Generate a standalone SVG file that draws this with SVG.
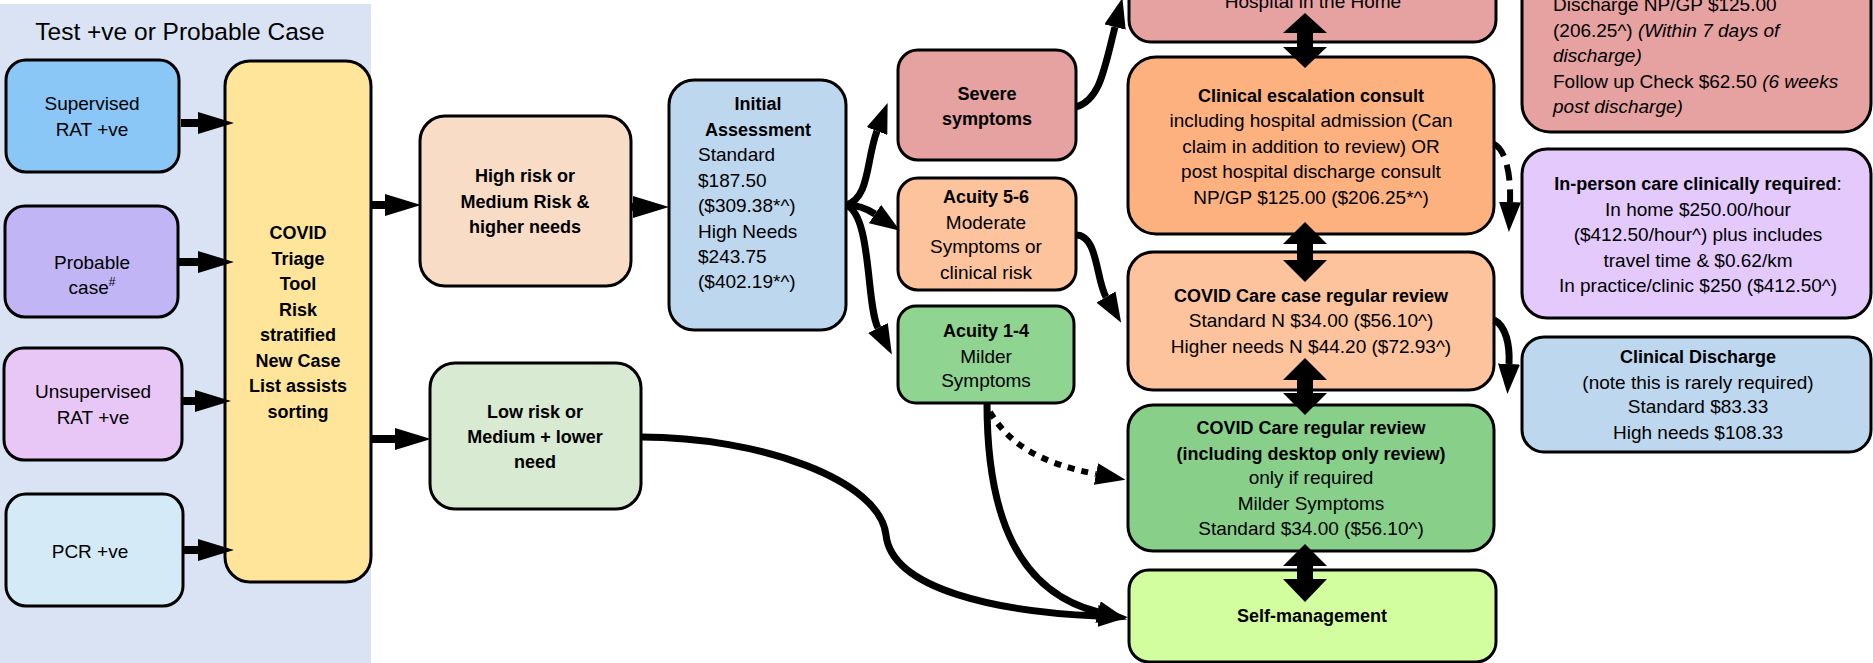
<svg xmlns="http://www.w3.org/2000/svg" width="1873" height="663" viewBox="0 0 1873 663">
<defs>
<style>
.n{stroke:#000;stroke-width:3}
text{font-family:"Liberation Sans",Arial,sans-serif;font-size:19px;fill:#000}
.c{text-anchor:middle}
.b{font-weight:bold;font-size:18px}
.i{font-style:italic}
.ln{fill:none;stroke:#000;stroke-width:8}
.cv{fill:none;stroke:#000;stroke-width:7}
.dot{fill:none;stroke:#000;stroke-width:6;stroke-dasharray:7 7}
.dash{fill:none;stroke:#000;stroke-width:6;stroke-dasharray:16 9}
</style>
<marker id="ah" markerUnits="userSpaceOnUse" markerWidth="36" markerHeight="22" viewBox="0 0 36 22" refX="0" refY="11" orient="auto"><path d="M0,0 L36,11 L0,22 z" fill="#000"/></marker>
<marker id="ahc" markerUnits="userSpaceOnUse" markerWidth="30" markerHeight="22" viewBox="0 0 30 22" refX="0" refY="11" orient="auto"><path d="M0,0 L30,11 L0,22 z" fill="#000"/></marker>
</defs>
<rect x="0" y="4" width="371" height="659" fill="#dae3f3"/>
<text class="c" x="180" y="40" style="font-size:24.5px">Test +ve or Probable Case</text>

<g id="supervised"><rect class="n" x="6" y="60" width="173" height="112" rx="20" fill="#8ac6f6"/><text class="c" x="92" y="110">Supervised</text><text class="c" x="92" y="136">RAT +ve</text></g>
<g id="probable"><rect class="n" x="5" y="206" width="173" height="111" rx="20" fill="#c1b5f5"/><text class="c" x="92" y="269">Probable</text><text class="c" x="92" y="294">case<tspan style="font-size:12px" dy="-8">#</tspan></text></g>
<g id="unsupervised"><rect class="n" x="4" y="348" width="178" height="112" rx="20" fill="#e8c7f7"/><text class="c" x="93" y="398">Unsupervised</text><text class="c" x="93" y="424">RAT +ve</text></g>
<g id="pcr"><rect class="n" x="6" y="494" width="177" height="112" rx="20" fill="#d4ebf7"/><text class="c" x="90" y="558">PCR +ve</text></g>
<g id="triage"><rect class="n" x="225" y="61" width="146" height="521" rx="25" fill="#fee599"/>
<text class="c b" x="298" y="239">COVID</text><text class="c b" x="298" y="265">Triage</text><text class="c b" x="298" y="290">Tool</text><text class="c b" x="298" y="316">Risk</text><text class="c b" x="298" y="341">stratified</text><text class="c b" x="298" y="367">New Case</text><text class="c b" x="298" y="392">List assists</text><text class="c b" x="298" y="418">sorting</text></g>
<g id="highrisk"><rect class="n" x="420" y="116" width="211" height="170" rx="25" fill="#f8dcc6"/><text class="c b" x="525" y="182">High risk or</text><text class="c b" x="525" y="208">Medium Risk &amp;</text><text class="c b" x="525" y="233">higher needs</text></g>
<g id="lowrisk"><rect class="n" x="430" y="363" width="211" height="146" rx="25" fill="#d9ead3"/><text class="c b" x="535" y="418">Low risk or</text><text class="c b" x="535" y="443">Medium + lower</text><text class="c b" x="535" y="468">need</text></g>
<g id="initial"><rect class="n" x="669" y="80" width="177" height="250" rx="25" fill="#bdd7ee"/><text class="c b" x="758" y="110">Initial</text><text class="c b" x="758" y="136">Assessment</text>
<text x="698" y="161">Standard</text><text x="698" y="187">$187.50</text><text x="698" y="212">($309.38*^)</text><text x="698" y="238">High Needs</text><text x="698" y="263">$243.75</text><text x="698" y="288">($402.19*^)</text></g>
<g id="severe"><rect class="n" x="898" y="50" width="178" height="110" rx="20" fill="#e6a1a1"/><text class="c b" x="987" y="100">Severe</text><text class="c b" x="987" y="125">symptoms</text></g>
<g id="acuity56"><rect class="n" x="898" y="178" width="178" height="112" rx="20" fill="#fcc39c"/><text class="c b" x="986" y="203">Acuity 5-6</text><text class="c" x="986" y="229">Moderate</text><text class="c" x="986" y="253">Symptoms or</text><text class="c" x="986" y="279">clinical risk</text></g>
<g id="acuity14"><rect class="n" x="898" y="306" width="176" height="97" rx="18" fill="#8fd490"/><text class="c b" x="986" y="337">Acuity 1-4</text><text class="c" x="986" y="363">Milder</text><text class="c" x="986" y="387">Symptoms</text></g>
<g id="hospital"><rect class="n" x="1129" y="-40" width="367" height="82" rx="22" fill="#e6a1a1"/><text class="c" x="1313" y="8">Hospital in the Home</text></g>
<g id="escalation"><rect class="n" x="1128" y="57" width="366" height="177" rx="28" fill="#fcb17f"/><text class="c b" x="1311" y="102">Clinical escalation consult</text><text class="c" x="1311" y="127">including hospital admission (Can</text><text class="c" x="1311" y="153">claim in addition to  review) OR</text><text class="c" x="1311" y="178">post hospital discharge consult</text><text class="c" x="1311" y="204">NP/GP $125.00  ($206.25*^)</text></g>
<g id="casereview"><rect class="n" x="1128" y="252" width="366" height="138" rx="25" fill="#fcc39c"/><text class="c b" x="1311" y="302">COVID Care case regular review</text><text class="c" x="1311" y="327">Standard N $34.00 ($56.10^)</text><text class="c" x="1311" y="353">Higher needs N $44.20 ($72.93^)</text></g>
<g id="regularreview"><rect class="n" x="1128" y="405" width="366" height="146" rx="25" fill="#88d08a"/><text class="c b" x="1311" y="434">COVID Care regular review</text><text class="c b" x="1311" y="460">(including desktop only review)</text><text class="c" x="1311" y="484">only if required</text><text class="c" x="1311" y="510">Milder Symptoms</text><text class="c" x="1311" y="535">Standard $34.00 ($56.10^)</text></g>
<g id="selfmanagement"><rect class="n" x="1129" y="570" width="367" height="92" rx="20" fill="#d3fe9f"/><text class="c b" x="1312" y="622">Self-management</text></g>
<g id="discharge"><rect class="n" x="1522" y="-40" width="349" height="172" rx="28" fill="#e6a1a1"/>
<text x="1553" y="11">Discharge NP/GP  $125.00</text><text x="1553" y="37">(206.25^) <tspan class="i">(Within 7 days of</tspan></text><text class="i" x="1553" y="62">discharge)</text><text x="1553" y="88">Follow up Check $62.50 <tspan class="i">(6 weeks</tspan></text><text class="i" x="1553" y="113">post discharge)</text></g>
<g id="inperson"><rect class="n" x="1522" y="149" width="349" height="169" rx="25" fill="#e3c9fc"/><text class="c" x="1698" y="190"><tspan style="font-weight:bold;font-size:18px">In-person care clinically required</tspan>:</text><text class="c" x="1698" y="216">In home  $250.00/hour</text><text class="c" x="1698" y="241">($412.50/hour^) plus includes</text><text class="c" x="1698" y="267">travel time &amp; $0.62/km</text><text class="c" x="1698" y="292">In practice/clinic $250 ($412.50^)</text></g>
<g id="clinicaldischarge"><rect class="n" x="1522" y="337" width="349" height="115" rx="22" fill="#bdd7ee"/><text class="c b" x="1698" y="363">Clinical Discharge</text><text class="c" x="1698" y="389">(note this is rarely required)</text><text class="c" x="1698" y="413">Standard $83.33</text><text class="c" x="1698" y="439">High needs $108.33</text></g>

<g id="connectors">
<path class="ln" d="M181 123 H198" marker-end="url(#ah)"/>
<path class="ln" d="M178 262 H198" marker-end="url(#ah)"/>
<path class="ln" d="M181 401 H195" marker-end="url(#ah)"/>
<path class="ln" d="M182 550 H198" marker-end="url(#ah)"/>
<path class="ln" d="M371 205 H385" marker-end="url(#ah)"/>
<path class="ln" d="M371 439 H395" marker-end="url(#ah)"/>
<path class="ln" d="M630 207 H633" marker-end="url(#ah)"/>
<path class="cv" d="M846 205 C870 198, 866 160, 877 131" marker-end="url(#ahc)"/>
<path class="cv" d="M846 205 C858 205, 866 208, 875 214" marker-end="url(#ahc)"/>
<path class="cv" d="M846 205 C872 215, 866 305, 878 328" marker-end="url(#ahc)"/>
<path class="cv" d="M1076 107 C1100 100, 1104 70, 1115 27" marker-end="url(#ahc)"/>
<path class="cv" d="M1076 235 C1098 235, 1096 280, 1106 297" marker-end="url(#ahc)"/>
<path class="cv" d="M987 403 C987 520, 1020 592, 1098 612" marker-end="url(#ahc)"/>
<path class="dot" d="M990 412 C1010 445, 1040 463, 1096 474" marker-end="url(#ahc)"/>
<path class="cv" d="M641 437 C760 437, 880 480, 886 535 C892 590, 1000 612, 1098 616" marker-end="url(#ahc)"/>
<path class="dash" d="M1494 144 C1506 150, 1511 175, 1510 202" marker-end="url(#ahc)"/>
<path class="cv" d="M1494 320 C1506 326, 1510 345, 1509 364" marker-end="url(#ahc)"/>
<polygon points="1305,13 1327,33 1313,33 1313,47 1327,47 1305,68 1283,47 1297,47 1297,33 1283,33"/>
<polygon points="1305,222 1327,244 1313,244 1313,260 1327,260 1305,282 1283,260 1297,260 1297,244 1283,244"/>
<polygon points="1305,358 1327,380 1313,380 1313,393 1327,393 1305,415 1283,393 1297,393 1297,380 1283,380"/>
<polygon points="1305,544 1327,566 1313,566 1313,579 1327,579 1305,602 1283,579 1297,579 1297,566 1283,566"/>
</g>
</svg>
